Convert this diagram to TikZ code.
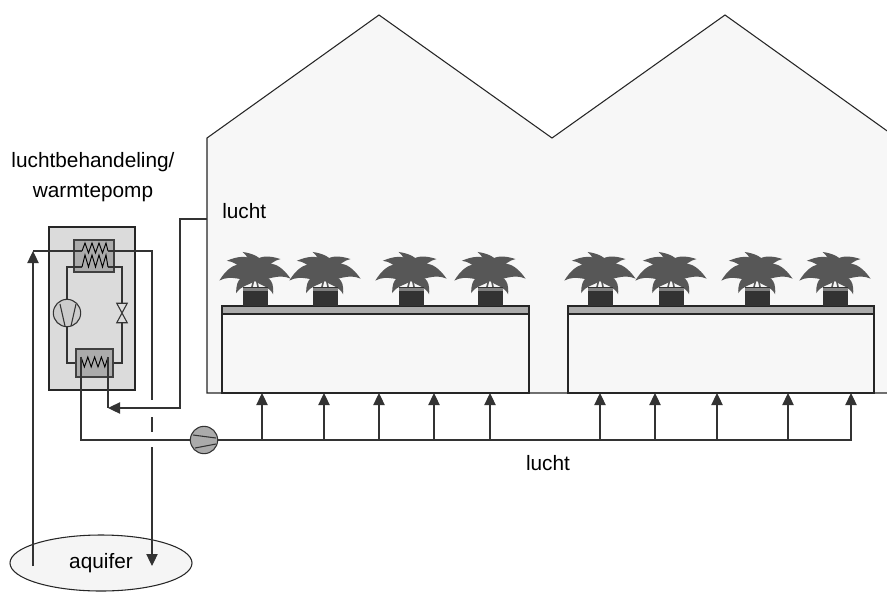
\documentclass[tikz,border=0pt]{standalone}
\usepackage{fontspec}
\setmainfont{Liberation Sans}
\usepackage{tikz}
\usetikzlibrary{arrows.meta,shapes.geometric}
\tikzset{
  ghwall/.style={draw=black!85, fill=black!3, line width=0.8pt, line join=miter},
  ghbench/.style={draw=black!85, fill=black!3, line width=0.8pt},
  ghtop/.style={draw=black!85, fill=black!33, line width=0.8pt},
  ghunit/.style={draw=black!85, fill=black!14, line width=0.8pt, inner sep=0pt},
  ghhx/.style={draw=black!75, fill=black!33, line width=0.8pt, inner sep=0pt},
  ghcoil/.style={draw=black, line width=0.7pt, line join=miter},
  ghpipe/.style={draw=black!80, line width=0.8pt},
  ghflow/.style={ghpipe, -{Triangle[length=9pt,width=8.5pt]}},
  ghmachine/.style={circle, draw=black!80, line width=0.8pt, minimum size=20.5pt, inner sep=0pt},
  ghlabel/.style={font=\fontsize{15.6}{22.5}\selectfont, inner sep=0pt},
  ghleaf/.style={fill=black!66},
  % potted plant, origin at the top centre of the pot
  plant/.pic={
    \foreach \ang/\xs/\ys in {15/35/35, -25/22/22, 52/33/33, 32/26/26,
                              -12/-35/35, 22/-22/22, -47/-34/34, -78/-31/31, -30/-27/27}
      \fill[ghleaf, shift={(0,-6)}, rotate=\ang, xscale=\xs, yscale=\ys]
        (0,0) .. controls (0.3,-0.55) and (0.75,-0.5) .. (1,0.2)
              .. controls (0.7,-0.05) and (0.35,0.08) .. (0,0);
    \draw[black!66, line width=1.2pt] (-3,0) -- (-1,-8) (3,0) -- (1,-10);
    \fill[black!80] (-12.5,0) rectangle (12.5,19);
    \fill[black!50] (-12.5,1) rectangle (12.5,4);
  },
}

\begin{document}
\begin{tikzpicture}[x=0.75pt, y=-0.75pt]
\useasboundingbox (0,0) rectangle (887,592);
\clip (0,0) rectangle (887,592);

% greenhouse with two roof spans
\draw[ghwall] (207,393) -- (207,138) -- (379,15) -- (552,138) -- (725,15)
  -- (897,138) -- (897,393) -- cycle;

% benches
\draw[ghbench] (222,314) rectangle (529,393);
\draw[ghtop] (222,306) rectangle (529,314);
\draw[ghbench] (568,314) rectangle (874,393);
\draw[ghtop] (568,306) rectangle (874,314);

\foreach \px in {255,325,411,490,600,671,757,835}
  \pic at (\px,287) {plant};

% air handling / heat pump unit
\node[ghunit, minimum width=64.5pt, minimum height=122.25pt] (unit) at (92,308.5) {};
\node[ghhx, minimum width=30pt, minimum height=24pt] (cond) at (94,256) {};
\node[ghhx, minimum width=27.75pt, minimum height=21pt] (evap) at (94.5,363) {};
\node[ghmachine, fill=black!20] (comp) at (67,313) {};
\node[inner sep=0pt, minimum width=7.5pt, minimum height=14.25pt] (valve) at (122,313) {};
\draw[ghpipe, fill=black!14] (valve.north west) -- (valve.north east)
  -- (valve.south west) -- (valve.south east) -- cycle;
\draw[ghpipe] (comp.center) ++(-7,-9) -- ++(5,22);
\draw[ghpipe] (comp.center) ++(9,-9) -- ++(-5,22);

% refrigerant circuit
\coordinate (condl) at (82,267);
\coordinate (condr) at (108,267);
\draw[ghpipe] (condl) -| (comp.north);
\draw[ghpipe] (comp.south) |- (evap.west);
\draw[ghpipe] (condr) -| (valve.north);
\draw[ghpipe] (valve.south) |- (evap.east);

% coils
\draw[ghcoil] (82,251) -- (85,243) -- (88.5,253) -- (92,243) -- (95.5,253)
  -- (99,243) -- (102.5,253) -- (106,243) -- (108,251);
\draw[ghcoil] (condl) -- (85,255) -- (88.5,267) -- (92,255) -- (95.5,267)
  -- (99,255) -- (102.5,267) -- (106,255) -- (condr);
\draw[ghcoil] (81,357) -- (84.4,367) -- (87.8,357) -- (91.2,367) -- (94.6,357)
  -- (98,367) -- (101.4,357) -- (104.8,367) -- (108,357);

% aquifer loop
\node[ellipse, draw=black!85, fill=black!4, line width=0.8pt, minimum width=136.5pt,
  minimum height=42pt, font=\fontsize{15.6}{18}\selectfont] (aquifer) at (101,563) {aquifer};
\coordinate (aqup) at (33,566);
\coordinate (wellin) at (33,251);
\coordinate (aqdown) at (152,566);
\draw[ghflow] (aqup) -- (wellin);
\draw[ghpipe] (wellin) -- (82,251);
\draw[ghpipe] (108,251) -- (152,251) -- (152,400);
\draw[ghpipe] (152,417) -- (152,432);
\draw[ghflow] (152,447) -- (aqdown);

% return air from the greenhouse
\coordinate (airout) at (207,219);
\coordinate (airin) at (108,408);
\draw[ghflow] (airout) -- (180,219) -- (180,408) -- (airin);
\draw[ghpipe] (108,357) -- (airin);

% supply air under the benches
\node[ghmachine, fill=black!33] (pump) at (204,440) {};
\draw[ghpipe] (pump.center) ++(-11,-5) -- ++(23,3);
\draw[ghpipe] (pump.center) ++(-9,8) -- ++(21,-4);
\draw[ghpipe] (81,357) -- (81,440) -- (pump.west);
\draw[ghflow] (pump.east) -| (851,393);
\foreach \vx in {262,324,379,434,490,600,655,717,788} {
  \coordinate (in\vx) at (\vx,393);
  \draw[ghflow] (\vx,440) -- (in\vx);
}

% labels
\node[ghlabel, align=center] (unitlabel) at (93,177) {luchtbehandeling/\\warmtepomp};
\node[ghlabel, anchor=west] (airlabel) at (222,211) {lucht};
\node[ghlabel] (supplylabel) at (548,463) {lucht};
\end{tikzpicture}
\end{document}
